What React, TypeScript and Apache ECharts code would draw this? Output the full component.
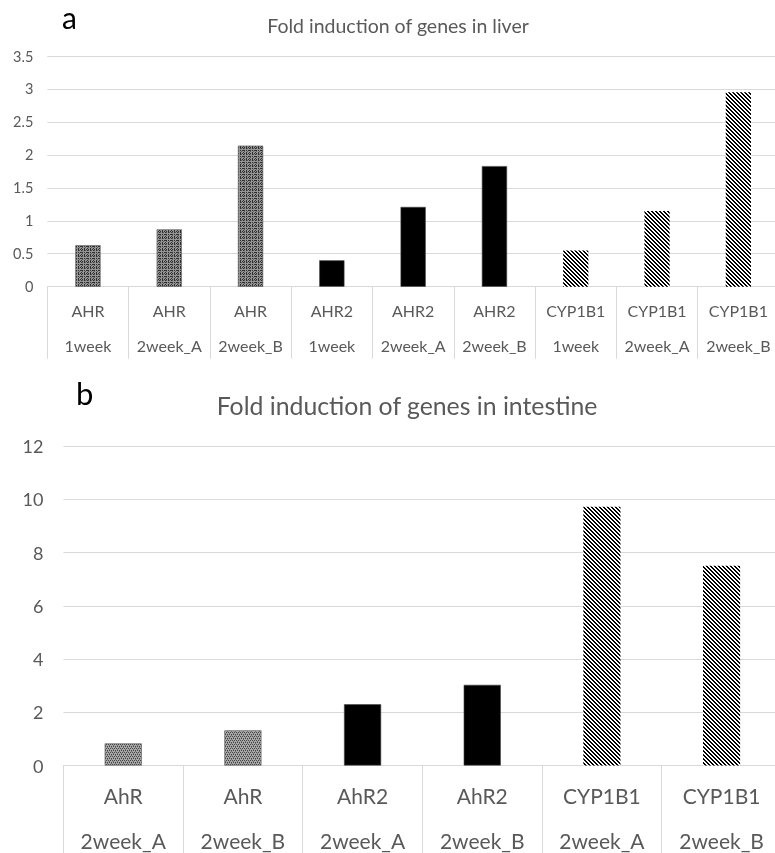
import React, { useEffect, useRef } from "react";
import * as echarts from "echarts";

const liverGenes = ["AHR", "AHR", "AHR", "AHR2", "AHR2", "AHR2", "CYP1B1", "CYP1B1", "CYP1B1"];
const liverTimes = ["1week", "2week_A", "2week_B", "1week", "2week_A", "2week_B", "1week", "2week_A", "2week_B"];
const liverValues = [0.63, 0.87, 2.14, 0.4, 1.21, 1.83, 0.55, 1.15, 2.95];
const liverTicks = { min: 0, max: 3.5, interval: 0.5 };

const intestineGenes = ["AhR", "AhR", "AhR2", "AhR2", "CYP1B1", "CYP1B1"];
const intestineTimes = ["2week_A", "2week_B", "2week_A", "2week_B", "2week_A", "2week_B"];
const intestineValues = [0.83, 1.32, 2.3, 3.03, 9.72, 7.5];
const intestineTicks = { min: 0, max: 12, interval: 2 };

const titleLiver = "Fold induction of genes in liver";
const titleIntestine = "Fold induction of genes in intestine";

const FONT = "Lato, 'Noto Sans', sans-serif";
const TXT = "#595959";
const GRIDC = "#d9d9d9";

function makePattern(size: number, draw: (ctx: CanvasRenderingContext2D) => void) {
  const c = document.createElement("canvas");
  c.width = size;
  c.height = size;
  const ctx = c.getContext("2d") as CanvasRenderingContext2D;
  draw(ctx);
  return { image: c, repeat: "repeat" } as any;
}

export default function App() {
  const ref = useRef<HTMLDivElement>(null);
  useEffect(() => {
    if (!ref.current) return;
    document.body.style.margin = "0";
    const chart = echarts.init(ref.current, undefined, { renderer: "svg" });

    const checkA = makePattern(6, (ctx) => {
      ctx.fillStyle = "#959595";
      ctx.fillRect(0, 0, 6, 6);
      ctx.fillStyle = "#2e2e2e";
      for (let i = 0; i < 6; i++) {
        if (i % 2 === 0) {
          ctx.fillRect(i, 0, 1, 1);
          ctx.fillRect(0, i, 1, 1);
          ctx.fillRect(i, 3, 1, 1);
          ctx.fillRect(3, i, 1, 1);
        }
      }
      ctx.fillStyle = "#5e5e5e";
      ctx.fillRect(1, 1, 1, 1);
      ctx.fillRect(4, 4, 1, 1);
      ctx.fillRect(1, 4, 1, 1);
      ctx.fillRect(4, 1, 1, 1);
    });
    const checkB = makePattern(4, (ctx) => {
      ctx.fillStyle = "#a8a8a8";
      ctx.fillRect(0, 0, 4, 4);
      ctx.fillStyle = "#454545";
      ctx.fillRect(0, 0, 1, 1);
      ctx.fillRect(2, 0, 1, 1);
      ctx.fillRect(1, 2, 1, 1);
      ctx.fillRect(3, 2, 1, 1);
      ctx.fillStyle = "#727272";
      ctx.fillRect(1, 1, 1, 1);
      ctx.fillRect(3, 3, 1, 1);
    });
    const stripes = makePattern(4, (ctx) => {
      ctx.fillStyle = "#ffffff";
      ctx.fillRect(0, 0, 4, 4);
      ctx.fillStyle = "#000000";
      for (let y = 0; y < 4; y++) {
        for (let x = 0; x < 4; x++) {
          const d = (((x - y) % 4) + 4) % 4;
          if (d === 0 || d === 1) ctx.fillRect(x, y, 1, 1);
        }
      }
    });

    const styleFor = (gene: string, ahrPattern: any) => {
      const g = gene.toUpperCase();
      if (g === "AHR") return { color: ahrPattern, borderColor: "#555", borderWidth: 0.6 };
      if (g === "AHR2") return { color: "#000000", borderColor: "#444", borderWidth: 0.6 };
      return { color: stripes };
    };

    const liverData = liverValues.map((v, i) => ({ value: v, itemStyle: styleFor(liverGenes[i], checkA) }));
    const intestineData = intestineValues.map((v, i) => ({ value: v, itemStyle: styleFor(intestineGenes[i], checkB) }));

    const liverCats = liverGenes.map((g, i) => g + "\n" + liverTimes[i]);
    const intestineCats = intestineGenes.map((g, i) => g + "\n" + intestineTimes[i]);

    chart.setOption({
      animation: false,
      textStyle: { fontFamily: FONT },
      grid: [
        { left: 47.3, top: 56, width: 731.7, height: 230.7, containLabel: false, outerBoundsMode: "none" },
        { left: 63.4, top: 446, width: 718, height: 319.5, containLabel: false, outerBoundsMode: "none" },
      ],
      xAxis: [
        {
          type: "category",
          gridIndex: 0,
          data: liverCats,
          axisLine: { lineStyle: { color: GRIDC, width: 1 } },
          axisTick: { show: true, length: 72, interval: 0, lineStyle: { color: GRIDC } },
          axisLabel: { interval: 0, color: TXT, fontSize: 16, lineHeight: 35, margin: 6, fontFamily: FONT },
        },
        {
          type: "category",
          gridIndex: 1,
          data: intestineCats,
          axisLine: { lineStyle: { color: GRIDC, width: 1 } },
          axisTick: { show: true, length: 88, interval: 0, lineStyle: { color: GRIDC } },
          axisLabel: { interval: 0, color: TXT, fontSize: 21, lineHeight: 45, margin: 7, fontFamily: FONT },
        },
      ],
      yAxis: [
        {
          type: "value",
          gridIndex: 0,
          min: liverTicks.min,
          max: liverTicks.max,
          interval: liverTicks.interval,
          axisLine: { show: false },
          axisTick: { show: false },
          splitLine: { lineStyle: { color: GRIDC, width: 1 } },
          axisLabel: { color: TXT, fontSize: 14.5, margin: 14, fontFamily: FONT },
        },
        {
          type: "value",
          gridIndex: 1,
          min: intestineTicks.min,
          max: intestineTicks.max,
          interval: intestineTicks.interval,
          axisLine: { show: false },
          axisTick: { show: false },
          splitLine: { lineStyle: { color: GRIDC, width: 1 } },
          axisLabel: { color: TXT, fontSize: 18, margin: 20, fontFamily: FONT },
        },
      ],
      series: [
        { type: "bar", xAxisIndex: 0, yAxisIndex: 0, data: liverData, barWidth: "31%" },
        { type: "bar", xAxisIndex: 1, yAxisIndex: 1, data: intestineData, barWidth: "31%" },
      ],
      graphic: [
        { type: "text", left: 62, top: 2, style: { text: "a", fontSize: 30, fill: "#000", fontFamily: FONT } },
        { type: "text", left: 76, top: 377, style: { text: "b", fontSize: 31, fill: "#000", fontFamily: FONT } },
        {
          type: "text",
          x: 398,
          y: 25,
          style: { text: titleLiver, fontSize: 19.5, fill: TXT, fontFamily: FONT, align: "center", verticalAlign: "middle" },
        },
        {
          type: "text",
          x: 407,
          y: 405,
          style: { text: titleIntestine, fontSize: 24.8, fill: TXT, fontFamily: FONT, align: "center", verticalAlign: "middle" },
        },
      ],
    });
    return () => chart.dispose();
  }, []);
  return <div ref={ref} style={{ position: "fixed", left: 0, top: 0, width: 775, height: 853 }} />;
}
